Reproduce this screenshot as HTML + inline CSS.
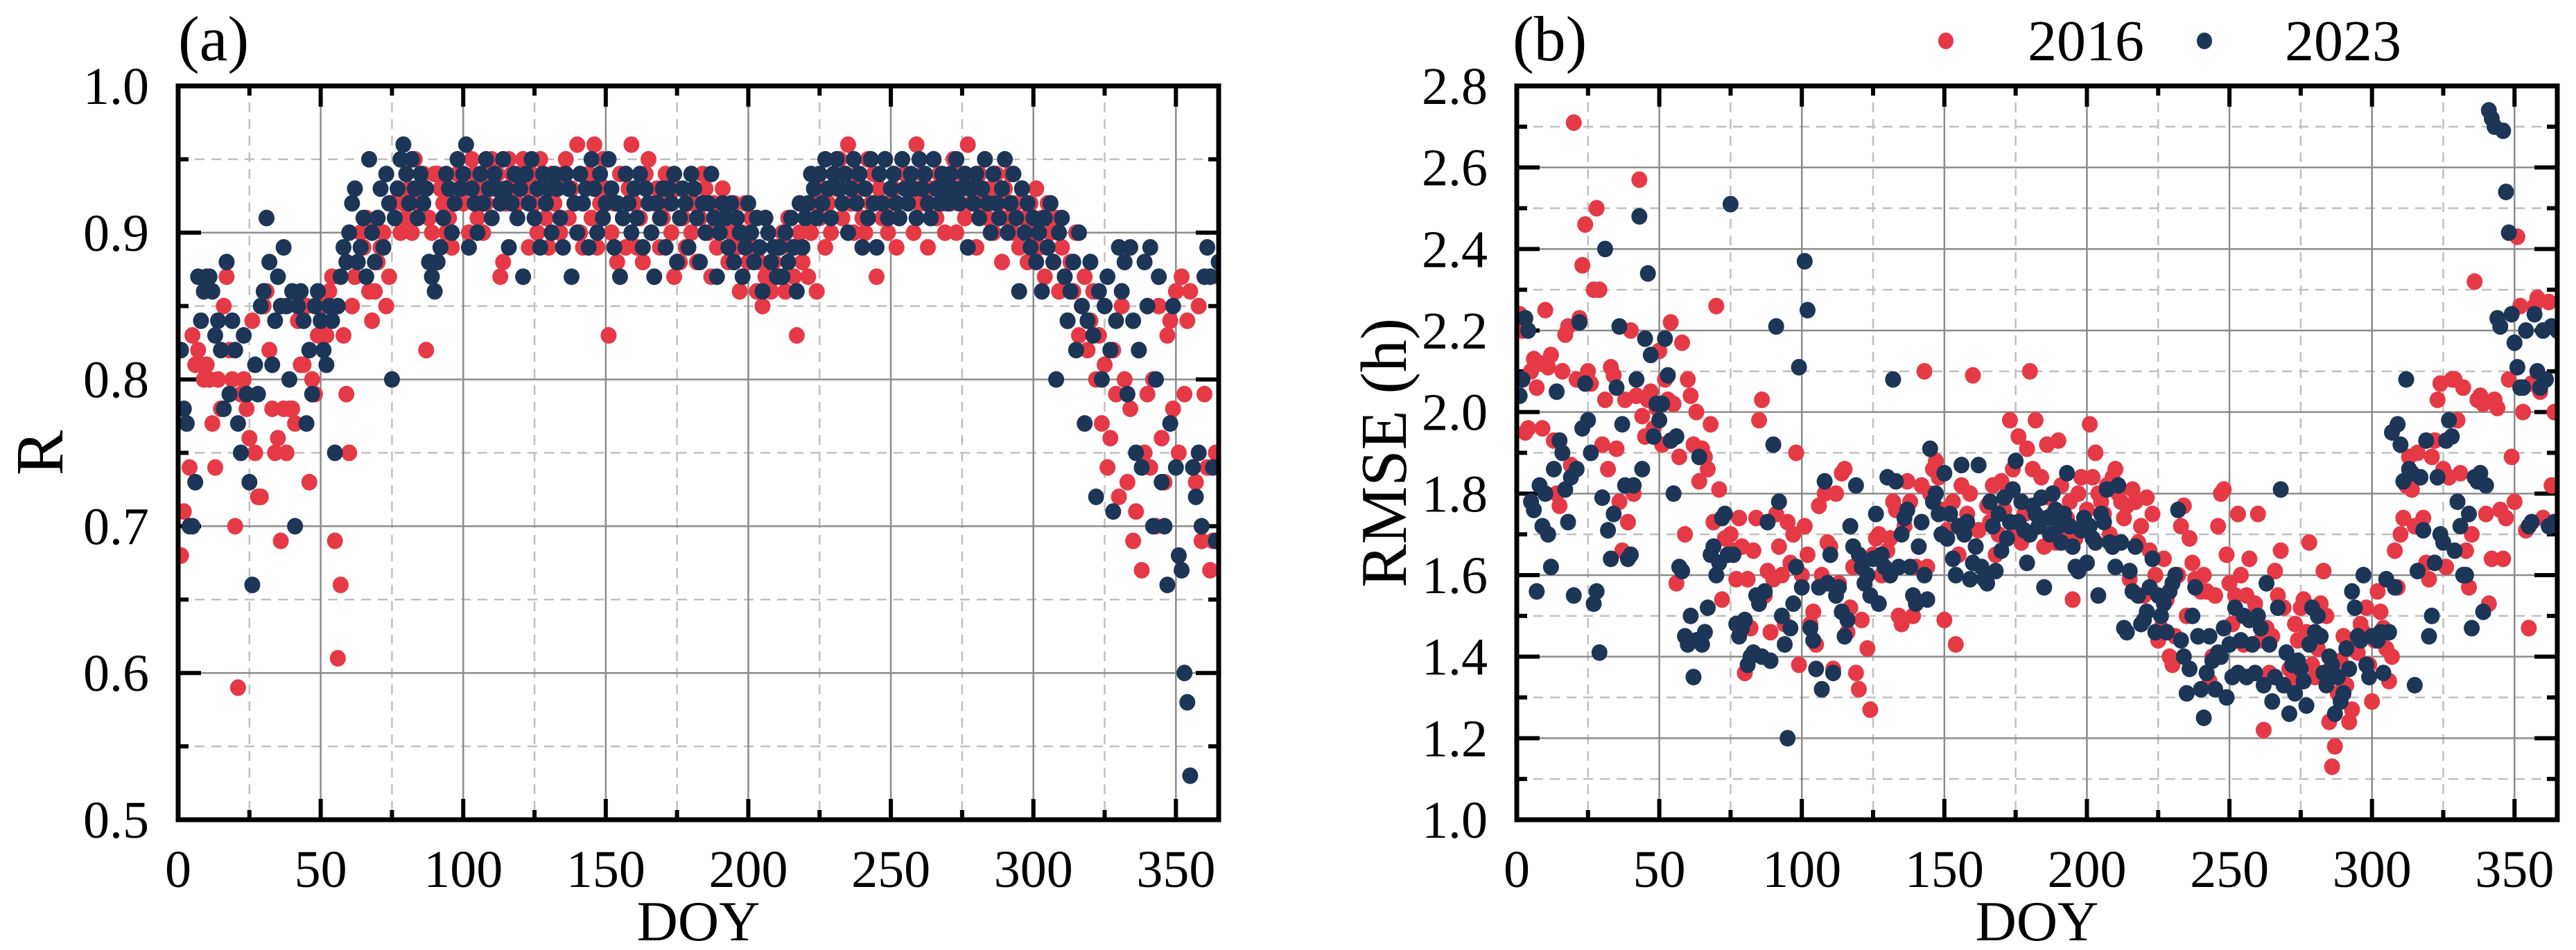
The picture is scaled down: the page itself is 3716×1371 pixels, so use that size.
<!DOCTYPE html>
<html><head><meta charset="utf-8">
<style>
html,body{margin:0;padding:0;background:#fff;}
svg{display:block;}
text{font-family:"Liberation Serif","DejaVu Serif",serif;fill:#000;}
</style></head>
<body>
<svg id="fig" width="3716" height="1371" viewBox="0 0 3716 1371" xmlns="http://www.w3.org/2000/svg">
  <text x="257" y="87" font-size="92">(a)</text>
  <text x="2182" y="87" font-size="92">(b)</text>
  <g>
    <ellipse cx="2807" cy="59" rx="11" ry="12" fill="#e63946"/>
    <text x="2925" y="87" font-size="84">2016</text>
    <ellipse cx="3180" cy="59" rx="11" ry="12" fill="#1d3557"/>
    <text x="3296" y="87" font-size="84">2023</text>
  </g>
</svg>
<script>
const rRed = [
.68,.71,.77,.74,.83,.81,.82,.81,.80,.81,
.80,.77,.74,.80,.78,.85,.87,.82,.80,.70,
.59,.79,.80,.78,.76,.84,.75,.72,.72,.85,
.86,.82,.78,.75,.76,.69,.78,.75,.78,.78,
.77,.84,.81,.81,.85,.73,.80,.79,.83,.83,
.85,.83,.86,.87,.69,.61,.66,.83,.79,.75,
.85,.87,.88,.90,.89,.91,.86,.84,.86,.88,
.89,.90,.85,.87,.92,.91,.93,.90,.92,.91,
.93,.90,.95,.92,.93,.94,.82,.91,.90,.94,
.94,.93,.92,.90,.91,.89,.92,.94,.93,.92,
.93,.90,.95,.94,.91,.93,.90,.92,.94,.95,
.93,.94,.87,.88,.92,.95,.94,.93,.92,.94,
.95,.93,.89,.94,.92,.90,.95,.93,.91,.89,
.94,.92,.93,.90,.94,.95,.91,.93,.92,.96,
.90,.89,.93,.94,.91,.96,.89,.92,.95,.93,
.83,.90,.92,.88,.94,.91,.89,.93,.96,.92,
.89,.91,.88,.94,.95,.90,.92,.93,.89,.91,
.94,.92,.90,.87,.93,.88,.91,.89,.92,.90,
.92,.88,.91,.94,.93,.90,.87,.92,.89,.91,
.93,.91,.88,.90,.92,.89,.86,.90,.92,.88,
.91,.89,.86,.88,.85,.87,.90,.86,.88,.89,
.87,.90,.86,.91,.89,.87,.83,.90,.88,.91,
.87,.90,.92,.86,.91,.93,.89,.92,.90,.94,
.93,.95,.91,.94,.96,.92,.90,.94,.93,.91,
.90,.95,.92,.94,.87,.93,.91,.95,.90,.92,
.93,.89,.91,.95,.94,.92,.93,.90,.96,.92,
.94,.92,.89,.93,.95,.91,.94,.92,.90,.93,
.92,.95,.90,.93,.94,.91,.96,.92,.93,.89,
.94,.92,.95,.91,.93,.90,.94,.92,.88,.93,
.91,.94,.90,.92,.89,.93,.91,.88,.92,.90,
.93,.89,.91,.87,.92,.90,.88,.91,.86,.89,
.87,.84,.88,.86,.90,.83,.85,.87,.82,.84,
.86,.80,.83,.77,.81,.74,.76,.82,.79,.72,
.85,.80,.73,.78,.69,.71,.82,.67,.75,.79,
.74,.80,.70,.85,.76,.73,.83,.84,.78,.86,
.75,.87,.79,.84,.86,.74,.73,.85,.69,.79,
.74,.67,.69,.75,.87];
const rBlue = [
.82,.78,.77,.70,.70,.73,.87,.84,.86,.87,
.87,.86,.83,.84,.82,.78,.88,.79,.84,.82,
.77,.75,.83,.79,.73,.66,.81,.79,.85,.86,
.91,.88,.81,.84,.87,.85,.89,.85,.80,.86,
.70,.85,.86,.84,.77,.82,.79,.85,.86,.84,
.82,.81,.85,.84,.75,.85,.87,.89,.88,.90,
.92,.93,.88,.89,.91,.87,.95,.90,.88,.91,
.93,.89,.94,.92,.80,.91,.93,.95,.96,.94,
.92,.95,.93,.91,.94,.92,.93,.88,.87,.86,
.88,.89,.91,.94,.93,.90,.92,.95,.93,.94,
.96,.89,.93,.92,.90,.94,.92,.95,.93,.91,
.94,.93,.92,.95,.93,.89,.92,.94,.91,.93,
.87,.94,.92,.95,.91,.93,.89,.94,.92,.93,
.90,.94,.93,.91,.89,.94,.93,.87,.92,.90,
.94,.92,.93,.89,.95,.93,.90,.94,.91,.92,
.95,.93,.89,.92,.87,.91,.94,.92,.90,.93,
.91,.94,.89,.93,.92,.90,.87,.92,.91,.93,
.89,.93,.92,.94,.88,.91,.93,.92,.89,.94,
.93,.91,.88,.92,.90,.92,.94,.91,.87,.90,
.92,.91,.89,.92,.88,.91,.90,.87,.89,.92,
.90,.88,.91,.89,.86,.91,.90,.88,.89,.87,
.89,.87,.90,.88,.91,.89,.86,.92,.89,.91,
.92,.94,.93,.91,.94,.92,.95,.93,.91,.94,
.95,.93,.92,.94,.90,.93,.95,.92,.94,.89,
.93,.91,.95,.92,.89,.94,.92,.95,.91,.93,
.94,.92,.91,.95,.93,.92,.94,.93,.91,.95,
.93,.94,.92,.91,.95,.93,.92,.94,.93,.92,
.94,.93,.95,.92,.93,.94,.89,.93,.92,.94,
.91,.93,.95,.92,.90,.94,.92,.91,.93,.95,
.90,.92,.94,.91,.86,.93,.90,.92,.89,.91,
.88,.90,.86,.91,.89,.92,.88,.80,.90,.91,
.87,.84,.86,.88,.82,.90,.85,.77,.84,.88,
.83,.72,.86,.80,.85,.87,.82,.71,.84,.89,
.86,.88,.79,.89,.84,.75,.82,.74,.88,.85,
.89,.70,.80,.87,.73,.70,.66,.77,.85,.74,
.68,.67,.60,.58,.53,.74,.72,.75,.70,.87,
.89,.87,.74,.69,.88];
const eRed = [
2.24,2.20,1.95,1.96,2.10,2.13,2.06,2.12,1.96,2.25,
2.11,2.14,1.93,1.80,1.77,2.10,2.19,2.21,1.87,2.71,
2.08,2.23,2.36,2.46,2.10,2.07,2.30,2.50,2.30,1.92,
2.03,1.86,2.11,2.09,1.91,1.78,1.66,2.03,1.73,2.20,
1.80,2.04,2.57,1.99,1.94,2.03,2.05,1.96,2.01,2.15,
1.92,2.08,2.03,2.22,2.02,1.58,1.89,2.17,1.70,2.08,
2.04,1.92,2.00,1.83,1.91,1.89,1.86,1.97,1.73,2.26,
1.81,1.54,1.69,1.65,1.70,1.66,1.59,1.74,1.67,1.36,
1.59,1.47,1.66,1.74,1.98,2.03,1.55,1.61,1.46,1.59,
1.75,1.67,1.60,1.48,1.73,1.63,1.70,1.90,1.38,1.60,
1.72,1.65,1.48,1.51,1.43,1.77,1.60,1.80,1.68,1.67,
1.37,1.80,1.58,1.85,1.86,1.46,1.52,1.62,1.36,1.32,
1.49,1.58,1.42,1.27,1.65,1.69,1.70,1.60,1.62,1.66,
1.69,1.78,1.76,1.50,1.48,1.72,1.83,1.78,1.50,1.62,
1.67,1.82,2.10,1.62,1.80,1.86,1.88,1.84,1.76,1.49,
1.71,1.75,1.78,1.43,1.65,1.82,1.70,1.75,1.80,2.09,
1.67,1.71,1.62,1.59,1.77,1.73,1.82,1.65,1.70,1.83,
1.76,1.80,1.98,1.86,1.70,1.94,1.68,1.75,1.91,2.10,
1.86,1.98,1.72,1.84,1.67,1.92,1.79,1.75,1.68,1.93,
1.82,1.71,1.74,1.78,1.54,1.69,1.80,1.84,1.73,1.76,
1.97,1.84,1.90,1.80,1.78,1.75,1.82,1.70,1.84,1.86,
1.80,1.78,1.74,1.77,1.59,1.81,1.78,1.68,1.72,1.55,
1.79,1.66,1.75,1.60,1.44,1.47,1.64,1.54,1.40,1.38,
1.45,1.60,1.72,1.77,1.50,1.69,1.63,1.59,1.45,1.56,
1.60,1.56,1.34,1.40,1.55,1.72,1.80,1.81,1.65,1.58,
1.48,1.55,1.75,1.60,1.43,1.55,1.64,1.50,1.53,1.75,
1.44,1.22,1.47,1.36,1.45,1.61,1.55,1.66,1.52,1.33,
1.37,1.34,1.48,1.44,1.52,1.54,1.46,1.68,1.38,1.35,
1.42,1.53,1.61,1.50,1.24,1.13,1.18,1.31,1.39,1.45,
1.33,1.24,1.27,1.44,1.41,1.48,1.46,1.52,1.38,1.29,
1.44,1.56,1.51,1.47,1.42,1.34,1.40,1.66,1.57,1.70,
1.74,1.82,1.89,1.81,1.72,1.90,1.84,1.74,1.63,1.59,
1.89,1.93,2.03,2.07,1.86,1.62,1.84,2.08,2.08,1.98,
1.85,2.06,1.66,1.57,1.70,2.32,2.03,2.04,2.02,1.75,
1.53,1.64,2.03,2.01,1.76,1.64,1.74,2.08,1.89,1.78,
2.43,2.26,2.00,1.71,1.47,2.07,2.26,2.28,2.05,1.74,
2.08,2.27,1.82,2.00,1.73];
const eBlue = [
2.04,2.08,2.23,2.20,1.78,1.76,1.56,1.82,1.72,1.80,
1.70,1.62,1.86,2.05,1.93,1.90,1.81,1.73,1.84,1.55,
1.86,2.22,1.96,2.07,1.98,1.90,1.53,1.56,1.41,1.79,
2.40,1.71,1.64,1.75,2.06,2.21,1.97,1.82,1.64,1.65,
1.82,2.08,2.48,1.86,2.18,2.34,2.14,1.94,2.02,1.98,
2.02,2.18,2.09,1.93,1.80,1.94,1.62,1.61,1.45,1.43,
1.50,1.35,1.44,1.89,1.43,1.46,1.52,1.65,1.67,1.60,
1.63,1.74,1.75,1.65,2.51,1.65,1.48,1.45,1.47,1.49,
1.38,1.40,1.41,1.55,1.53,1.40,1.56,1.73,1.39,1.92,
2.21,1.78,1.50,1.43,1.20,1.47,1.53,1.62,2.11,1.57,
2.37,2.25,1.47,1.44,1.37,1.57,1.32,1.83,1.58,1.65,
1.36,1.55,1.57,1.51,1.45,1.49,1.72,1.67,1.82,1.65,
1.62,1.58,1.60,1.55,1.64,1.75,1.53,1.65,1.62,1.84,
1.60,2.08,1.83,1.62,1.70,1.74,1.76,1.62,1.55,1.53,
1.67,1.73,1.60,1.54,1.91,1.78,1.80,1.75,1.70,1.85,
1.69,1.75,1.64,1.60,1.72,1.87,1.70,1.73,1.59,1.63,
1.67,1.87,1.62,1.59,1.58,1.78,1.72,1.61,1.75,1.66,
1.79,1.69,1.73,1.81,1.88,1.73,1.78,1.71,1.63,1.70,
1.77,1.75,1.72,1.79,1.57,1.74,1.70,1.80,1.76,1.72,
1.68,1.75,1.85,1.72,1.67,1.62,1.61,1.71,1.74,1.63,
1.72,1.69,1.68,1.55,1.75,1.73,1.81,1.68,1.67,1.62,
1.82,1.68,1.47,1.46,1.61,1.56,1.67,1.55,1.48,1.49,
1.51,1.57,1.64,1.46,1.55,1.50,1.53,1.46,1.56,1.58,
1.60,1.76,1.44,1.40,1.31,1.37,1.50,1.57,1.45,1.32,
1.25,1.36,1.45,1.39,1.32,1.41,1.40,1.47,1.30,1.43,
1.35,1.52,1.36,1.44,1.50,1.35,1.49,1.43,1.36,1.50,
1.47,1.33,1.58,1.43,1.29,1.35,1.52,1.81,1.33,1.41,
1.26,1.38,1.31,1.39,1.37,1.34,1.28,1.43,1.52,1.46,
1.50,1.45,1.36,1.33,1.40,1.38,1.26,1.35,1.29,1.31,
1.42,1.37,1.56,1.52,1.45,1.44,1.60,1.38,1.35,1.45,
1.45,1.44,1.46,1.36,1.59,1.46,1.95,1.57,1.97,1.92,
1.83,2.08,1.86,1.85,1.33,1.61,1.84,1.71,1.93,1.45,
1.50,1.63,1.84,1.70,1.68,1.93,1.98,1.94,1.66,1.78,
1.72,1.60,1.60,1.75,1.47,1.84,1.83,1.85,1.51,1.82,
2.74,2.72,2.70,2.23,2.21,2.69,2.54,2.44,2.24,2.17,
2.11,2.06,2.06,2.20,1.72,1.73,2.24,2.10,2.06,2.20,
2.08,1.72,2.21,1.73,2.20];
const xTicks = [0,50,100,150,200,250,300,350];
const rTicks = [0.5,0.6,0.7,0.8,0.9,1.0];
const eTicks = [1.0,1.2,1.4,1.6,1.8,2.0,2.2,2.4,2.6,2.8];
const rTickLabels = ["0.5","0.6","0.7","0.8","0.9","1.0"];
const eTickLabels = ["1.0","1.2","1.4","1.6","1.8","2.0","2.2","2.4","2.6","2.8"];

const NS = "http://www.w3.org/2000/svg";
const svg = document.getElementById('fig');
function mk(tag, attrs, parent){
  const e = document.createElementNS(NS, tag);
  for (const k in attrs) e.setAttribute(k, attrs[k]);
  (parent||svg).appendChild(e);
  return e;
}
const TOP = 124, BOT = 1183;

function panel(id, L, R, yMin, yMax, yMajor, yLabels, yMinorStep, title, titleX, titleSize, red, blue){
  const g = mk('g', {});
  
  
  const X = v => L + (v - 0) / 365 * (R - L);
  const Y = v => BOT - (v - yMin) / (yMax - yMin) * (BOT - TOP);
  // minor dashed grid
  for (let i = 0; i < xTicks.length; i++) {
    const xv = xTicks[i] + 25;
    if (xv < 365) {
      const ln = mk('line', {x1:X(xv), x2:X(xv), y1:TOP, y2:BOT, stroke:'#c0c0c0', 'stroke-width':2.5, 'stroke-dasharray':'14 10'}, g);
      
      
      mk('line', {x1:X(xv), x2:X(xv), y1:TOP, y2:TOP+14, stroke:'#000', 'stroke-width':6}, g);
      mk('line', {x1:X(xv), x2:X(xv), y1:BOT, y2:BOT-14, stroke:'#000', 'stroke-width':6}, g);
    }
  }
  for (let i = 0; i < yMajor.length - 1; i++) {
    const yv = yMajor[i] + yMinorStep;
    const ln = mk('line', {x1:L, x2:R, y1:Y(yv), y2:Y(yv), stroke:'#c0c0c0', 'stroke-width':2.5, 'stroke-dasharray':'14 10'}, g);
    
    
    mk('line', {x1:L, x2:L+15, y1:Y(yv), y2:Y(yv), stroke:'#000', 'stroke-width':6}, g);
    mk('line', {x1:R, x2:R-15, y1:Y(yv), y2:Y(yv), stroke:'#000', 'stroke-width':6}, g);
  }
  // major grid + ticks
  for (let i = 0; i < xTicks.length; i++) {
    const x = X(xTicks[i]);
    if (i > 0) {
      const ln = mk('line', {x1:x, x2:x, y1:TOP, y2:BOT, stroke:'#8c8c8c', 'stroke-width':2.5}, g);
      
      
      mk('line', {x1:x, x2:x, y1:TOP, y2:TOP+30, stroke:'#000', 'stroke-width':6}, g);
      mk('line', {x1:x, x2:x, y1:BOT, y2:BOT-30, stroke:'#000', 'stroke-width':6}, g);
    }
    const t = mk('text', {x:x, y:1280, 'font-size':76, 'text-anchor':'middle'}, g);
    
    
    t.textContent = String(xTicks[i]);
  }
  for (let i = 0; i < yMajor.length; i++) {
    const y = Y(yMajor[i]);
    if (i > 0 && i < yMajor.length - 1) {
      const ln = mk('line', {x1:L, x2:R, y1:y, y2:y, stroke:'#8c8c8c', 'stroke-width':2.5}, g);
      
      
      mk('line', {x1:L, x2:L+33, y1:y, y2:y, stroke:'#000', 'stroke-width':6}, g);
      mk('line', {x1:R, x2:R-33, y1:y, y2:y, stroke:'#000', 'stroke-width':6}, g);
    }
    const t = mk('text', {x:L-42, y:y+26, 'font-size':76, 'text-anchor':'end'}, g);
    
    
    t.textContent = yLabels[i];
  }
  // points
  const clip = mk('clipPath', {id:id+'-clip'}, g);
  mk('rect', {x:L, y:TOP, width:R-L, height:BOT-TOP}, clip);
  const pts = mk('g', {'clip-path':'url(#'+id+'-clip)'}, g);
  for (let i = 0; i < red.length; i++) {
    const c = mk('ellipse', {cx:X(i+1), cy:Y(red[i]), rx:11.5, ry:12, fill:'#e63946'}, pts);
    
    
  }
  for (let i = 0; i < blue.length; i++) {
    const c = mk('ellipse', {cx:X(i+1), cy:Y(blue[i]), rx:11.5, ry:12, fill:'#1d3557'}, pts);
    
    
  }
  // frame
  const fr = mk('rect', {x:L, y:TOP, width:R-L, height:BOT-TOP, fill:'none', stroke:'#000', 'stroke-width':7}, g);
  
  
  // axis titles
  const xt = mk('text', {x:(L+R)/2, y:1357, 'font-size':82, 'text-anchor':'middle'}, g);
  
  
  xt.textContent = 'DOY';
  const cy = (TOP+BOT)/2;
  const yt = mk('text', {x:titleX, y:cy, 'font-size':titleSize, 'text-anchor':'middle', transform:'rotate(-90 '+titleX+' '+cy+')'}, g);
  
  
  yt.textContent = title;
}
panel('panel-a-r', 257, 1758, 0.5, 1.0, rTicks, rTickLabels, 0.05, 'R', 90, 98, rRed, rBlue);
panel('panel-b-rmse', 2188, 3689, 1.0, 2.8, eTicks, eTickLabels, 0.1, 'RMSE (h)', 2028, 94, eRed, eBlue);
</script>
</body></html>
